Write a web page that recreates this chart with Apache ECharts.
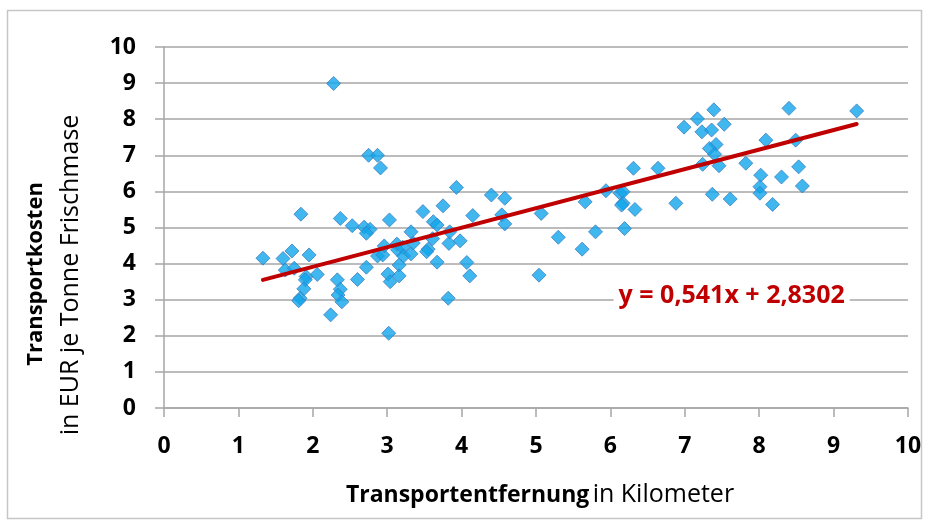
<!DOCTYPE html>
<html>
<head>
<meta charset="utf-8">
<script src="https://cdn.jsdelivr.net/npm/echarts@6/dist/echarts.min.js"></script>
<style>
html,body{margin:0;padding:0;background:#fff;}
#chart{width:930px;height:524px;}
</style>
</head>
<body>
<div id="chart"></div>
<script>
// Transport distance (km)
var distanceKm = [
1.33,1.60,1.63,1.72,1.75,1.84,1.95,1.91,1.90,1.88,1.83,1.81,2.06,2.28,2.24,2.33,2.37,2.37,2.34,2.39,
2.53,2.60,2.72,2.69,2.77,2.72,2.75,2.87,2.91,2.87,2.94,2.96,3.01,3.04,3.02,3.03,3.13,3.14,3.21,3.22,
3.16,3.16,3.32,3.32,3.35,3.48,3.55,3.53,3.61,3.62,3.67,3.67,3.75,3.82,3.83,3.84,3.93,3.98,4.07,4.11,
4.15,4.40,4.54,4.58,4.58,
5.04,5.07,5.30,5.62,5.66,5.80,5.94,6.13,6.17,6.17,6.15,6.33,6.19,6.31,6.64,
6.88,6.99,7.17,7.39,7.53,7.23,7.36,7.42,7.33,7.40,7.46,7.24,7.82,8.09,8.02,8.01,8.01,8.18,7.37,7.61,
8.30,8.40,9.31,8.49,8.53,8.58
];
// Transport cost (EUR per tonne fresh mass)
var costEur = [
4.15,4.14,3.82,4.35,3.87,5.37,4.24,3.64,3.55,3.30,3.04,2.97,3.70,8.99,2.58,3.55,5.25,3.29,3.13,2.94,
5.05,3.56,3.90,5.01,4.95,4.84,7.00,7.00,6.65,4.21,4.24,4.49,3.71,3.50,2.07,5.21,4.54,4.38,4.45,4.21,
3.96,3.66,4.27,4.88,4.57,5.44,4.40,4.33,4.69,5.16,5.07,4.04,5.60,3.04,4.56,4.88,6.11,4.63,4.03,3.66,
5.33,5.90,5.35,5.81,5.10,
3.68,5.39,4.73,4.40,5.71,4.88,6.02,5.95,5.99,5.67,5.62,5.50,4.97,6.64,6.64,
5.67,7.78,8.01,8.26,7.86,7.65,7.70,7.30,7.19,7.03,6.71,6.75,6.78,7.42,6.45,6.13,5.95,5.64,5.92,5.79,
6.40,8.30,8.23,7.42,6.68,6.15
];
// Linear trend y = slope*x + intercept
var trendSlope = 0.541;
var trendIntercept = 2.8302;
var trendLabel = 'y = 0,541x + 2,8302';
var trendLabelPos = [7.63, 3.1];
var xTicks = [0,1,2,3,4,5,6,7,8,9,10];
var yTicks = [0,1,2,3,4,5,6,7,8,9,10];

var points = distanceKm.map(function(x,i){return [x,costEur[i]];});
var xMin = Math.min.apply(null, distanceKm), xMax = Math.max.apply(null, distanceKm);
var trend = [[xMin, trendSlope*xMin+trendIntercept],[xMax, trendSlope*xMax+trendIntercept]];

var FONT = '"Open Sans", "Noto Sans", sans-serif';
var chart = echarts.init(document.getElementById('chart'));
chart.setOption({
  animation:false,
  backgroundColor:'#fff',
  grid:{left:164,right:22,top:47,bottom:116},
  graphic:[
    {type:'rect',shape:{x:7.5,y:10.5,width:914,height:508},style:{fill:'none',stroke:'#c6c6c6',lineWidth:1.5},silent:true},
    {type:'text',x:540,y:495,style:{
      rich:{b:{fontWeight:'bold',fontSize:23,fontFamily:FONT,fill:'#000'},r:{fontSize:25,fontFamily:FONT,fill:'#000'}},
      text:'{b|Transportentfernung} {r|in Kilometer}',textAlign:'center',textVerticalAlign:'middle'}},
    {type:'text',x:36,y:274,rotation:Math.PI/2,style:{text:'Transportkosten',fontWeight:'bold',fontSize:22,fontFamily:FONT,fill:'#000',textAlign:'center',textVerticalAlign:'middle'}},
    {type:'text',x:71,y:275,rotation:Math.PI/2,style:{text:'in EUR je Tonne Frischmase',fontSize:25,fontFamily:FONT,fill:'#000',textAlign:'center',textVerticalAlign:'middle'}}
  ],
  xAxis:{type:'value',min:0,max:10,interval:1,
    axisLine:{show:true,lineStyle:{color:'#a6a6a6',width:1.5}},
    axisTick:{show:true,length:9,lineStyle:{color:'#a6a6a6',width:1.5}},
    splitLine:{show:false},
    axisLabel:{margin:27,fontSize:23,fontWeight:'bold',fontFamily:FONT,color:'#000',
      formatter:function(v){return xTicks.indexOf(v)>=0?String(v):'';}}},
  yAxis:{type:'value',min:0,max:10,interval:1,
    axisLine:{show:true,lineStyle:{color:'#a6a6a6',width:1.5}},
    axisTick:{show:true,length:9,lineStyle:{color:'#a6a6a6',width:1.5}},
    splitLine:{show:true,lineStyle:{color:'#a6a6a6',width:1.5}},
    axisLabel:{margin:28,fontSize:23,fontWeight:'bold',fontFamily:FONT,color:'#000',
      formatter:function(v){return yTicks.indexOf(v)>=0?String(v):'';}}},
  series:[
    {type:'scatter',data:points,symbol:'diamond',symbolSize:14,z:3,
      itemStyle:{color:'#10a5ea',borderColor:'#3f7fc2',borderWidth:1}},
    {type:'line',data:trend,symbol:'none',z:4,lineStyle:{color:'#c00000',width:4,cap:'round'},
      markPoint:{symbol:'rect',symbolSize:0,silent:true,
        data:[{coord:trendLabelPos,value:trendLabel,
          label:{show:true,position:'inside',formatter:trendLabel,fontSize:25,fontWeight:'bold',fontFamily:FONT,
            color:'#c00000',backgroundColor:'#fff',padding:[0,5]}}]}}
  ]
});
</script>
</body>
</html>
